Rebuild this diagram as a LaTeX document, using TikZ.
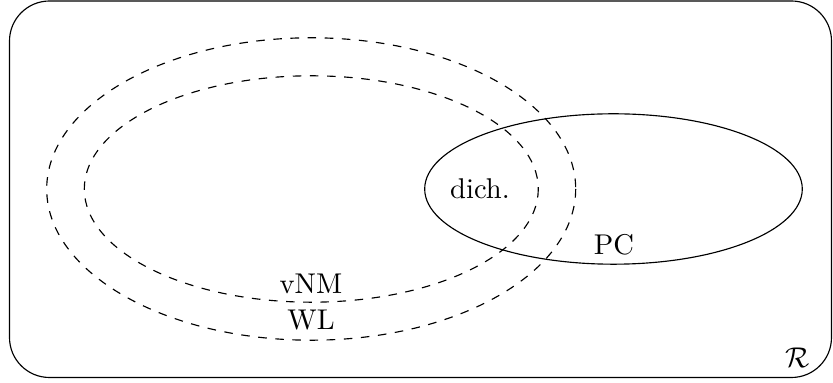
\documentclass[tikz,border=0pt]{standalone}
\begin{document}
\begin{tikzpicture}[x=0.35pt,y=-0.35pt,
  setline/.style={line width=0.4pt},
  lbl/.style={inner sep=0pt}]
\useasboundingbox (0,0) rectangle (833,383);
\draw[setline,rounded corners=14pt] (9.5,1) rectangle (831.5,377.5);
\draw[setline,dashed] (311.2,189) ellipse [x radius=264.5, y radius=151.2];
\draw[setline,dashed] (311.3,189) ellipse [x radius=227, y radius=113.2];
\draw[setline] (613.5,189) ellipse [x radius=188.8, y radius=75.2];
\node[lbl] (dich) at (480,189) {dich.};
\node[lbl] (pc) at (614,245) {PC};
\node[lbl] (vnm) at (311,284) {vNM};
\node[lbl] (wl) at (311,320) {WL};
\node[lbl] (r) at (798,358) {$\mathcal{R}$};
\end{tikzpicture}
\end{document}
